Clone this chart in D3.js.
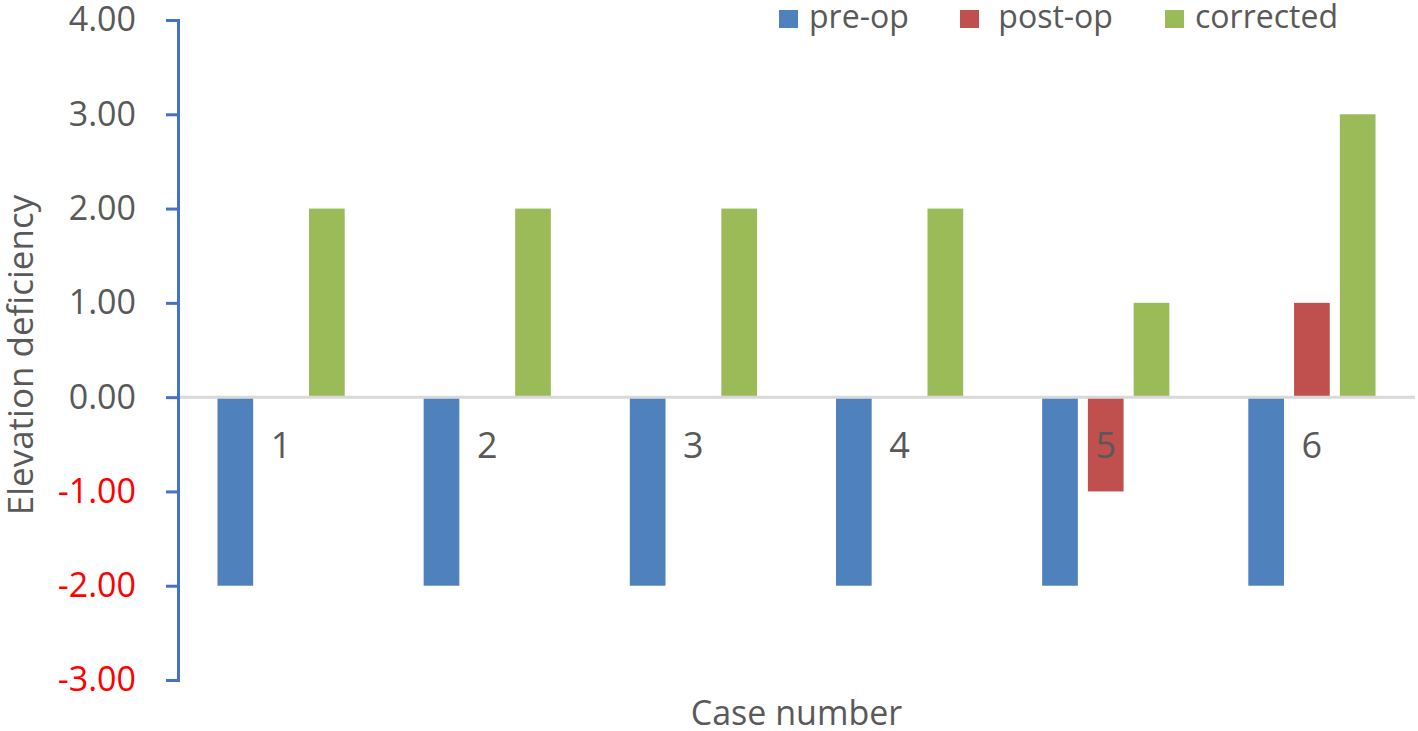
<!DOCTYPE html>
<html>
<head>
<meta charset="utf-8">
<script src="https://cdn.jsdelivr.net/npm/d3@7"></script>
<style>
  html, body { margin: 0; padding: 0; background: #fff; }
  svg { display: block; font-family: "Open Sans", "Noto Sans", sans-serif; }
</style>
</head>
<body>
<div id="chart"></div>
<script>
// datos
const cases = ['1', '2', '3', '4', '5', '6'];
const seriesNames = ['pre-op', 'post-op', 'corrected'];
const preOp = [-2, -2, -2, -2, -2, -2];
const postOp = [0, 0, 0, 0, -1, 1];
const corrected = [2, 2, 2, 2, 1, 3];
const yTicks = [-3, -2, -1, 0, 1, 2, 3, 4];
const legendLabels = ['pre-op', ' post-op', 'corrected'];

const colors = { 'pre-op': '#4F81BD', 'post-op': '#C0504D', 'corrected': '#9BBB59' };

const W = 1418, H = 731;
const m = { left: 178, right: 3, top: 20, bottom: 51 };

const svg = d3.select('#chart').append('svg')
  .attr('width', W).attr('height', H);

const y = d3.scaleLinear().domain([-3, 4]).range([H - m.bottom, m.top]);

const x0 = d3.scaleBand().domain(cases)
  .range([m.left, W - m.right])
  .paddingInner(0.383).paddingOuter(0.1915);

const x1 = d3.scaleBand().domain(seriesNames)
  .range([0, x0.bandwidth()])
  .paddingInner(0.22).paddingOuter(0);

const rows = cases.map((c, i) => ({
  case: c,
  values: [
    { key: 'pre-op', v: preOp[i] },
    { key: 'post-op', v: postOp[i] },
    { key: 'corrected', v: corrected[i] }
  ]
}));

// barras
const groups = svg.append('g').selectAll('g').data(rows).join('g')
  .attr('transform', d => `translate(${x0(d.case)},0)`);

groups.selectAll('rect').data(d => d.values.filter(e => e.v !== 0)).join('rect')
  .attr('x', d => x1(d.key))
  .attr('width', x1.bandwidth())
  .attr('y', d => y(Math.max(0, d.v)))
  .attr('height', d => Math.abs(y(d.v) - y(0)))
  .attr('fill', d => colors[d.key]);

// linea del cero
svg.append('line')
  .attr('x1', m.left).attr('x2', W - m.right)
  .attr('y1', y(0)).attr('y2', y(0))
  .attr('stroke', '#D9D9D9').attr('stroke-width', 3);

// eje y
const yAxis = svg.append('g')
  .attr('transform', `translate(${m.left},0)`)
  .call(d3.axisLeft(y).tickValues(yTicks).tickSize(12).tickPadding(30)
    .tickFormat(d => d.toFixed(2)).tickSizeOuter(12));

yAxis.select('.domain').attr('stroke', '#4472C4').attr('stroke-width', 3);
yAxis.selectAll('.tick line').attr('stroke', '#4472C4').attr('stroke-width', 3);
yAxis.selectAll('.tick text')
  .attr('font-size', 34)
  .attr('font-family', '"Open Sans", "Noto Sans", sans-serif')
  .attr('fill', d => d < 0 ? '#FF0000' : '#595959');

// etiquetas de categoria
svg.append('g').selectAll('text').data(cases).join('text')
  .attr('x', d => x0(d) + x0.bandwidth() / 2)
  .attr('y', y(0) + 61)
  .attr('text-anchor', 'middle')
  .attr('font-size', 36)
  .attr('fill', '#595959')
  .text(d => d);

// titulos
svg.append('text')
  .attr('x', (m.left + W - m.right) / 2)
  .attr('y', 725)
  .attr('text-anchor', 'middle')
  .attr('font-size', 34)
  .attr('fill', '#595959')
  .text('Case number');

svg.append('text')
  .attr('transform', `translate(33,355) rotate(-90)`)
  .attr('text-anchor', 'middle')
  .attr('font-size', 35)
  .attr('fill', '#595959')
  .text('Elevation deficiency');

// leyenda
const legendX = [779, 960, 1165];
const leg = svg.append('g').selectAll('g').data(seriesNames).join('g')
  .attr('transform', (d, i) => `translate(${legendX[i]},10)`);
leg.append('rect').attr('width', 19).attr('height', 18).attr('fill', d => colors[d]);
leg.append('text')
  .attr('x', 30).attr('y', 18)
  .style('white-space', 'pre')
  .attr('font-size', 32)
  .attr('fill', '#595959')
  .text((d, i) => legendLabels[i]);
</script>
</body>
</html>
